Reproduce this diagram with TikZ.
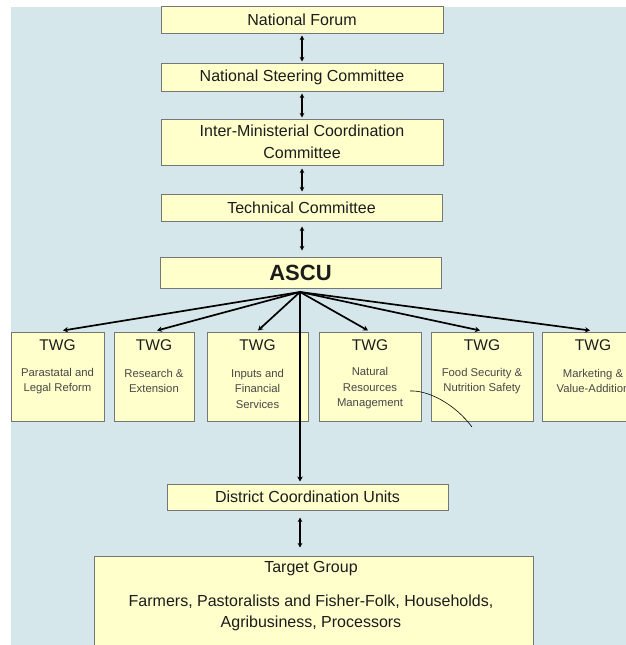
\documentclass[tikz,border=0pt]{standalone}
\usepackage{fontspec}
\setmainfont{Liberation Sans}
\usetikzlibrary{arrows.meta,calc}
\definecolor{bgblue}{RGB}{214,231,235}
\definecolor{boxfill}{RGB}{255,255,204}
\definecolor{boxline}{RGB}{118,118,118}
\definecolor{txt}{RGB}{28,28,28}
\begin{document}
\begin{tikzpicture}[x=1pt,y=-1pt,
  box/.style={draw=boxline, fill=boxfill, line width=1pt, inner sep=0pt, text=txt, font=\fontsize{16}{21.5}\selectfont, align=center},
  twgbox/.style={draw=boxline, fill=boxfill, line width=1pt, inner sep=0pt, minimum height=89pt},
  twghead/.style={text=txt, font=\fontsize{15.5}{15.5}\selectfont, inner sep=0pt},
  twgsub/.style={text=black!72, font=\fontsize{11.3}{15.5}\selectfont, align=center, inner sep=0pt},
  dbl/.style={{Stealth[length=4.5pt,width=4.5pt]}-{Stealth[length=4.5pt,width=4.5pt]}, line width=1.5pt},
  one/.style={-{Stealth[length=5pt,width=5.5pt]}, line width=1.7pt},
]
\useasboundingbox (0,0) rectangle (626,645);
\fill[white] (0,0) rectangle (626,645);
\fill[bgblue] (11,7) rectangle (626,645);

% top chain
\node[box, minimum width=282pt, minimum height=27pt] (nf) at (302,20) {National Forum};
\node[box, minimum width=282pt, minimum height=28pt] (nsc) at (302,77) {National Steering Committee};
\node[box, minimum width=282pt, minimum height=46pt] (imcc) at (302,142) {Inter-Ministerial Coordination\\Committee};
\node[box, minimum width=281pt, minimum height=27pt] (tc) at (301.5,207.5) {Technical Committee};
\node[box, minimum width=281pt, minimum height=31pt, font=\fontsize{22}{22}\selectfont\bfseries] (ascu) at (300.5,272.5) {ASCU};

% TWG boxes
\node[twgbox, minimum width=93pt] (t1) at (57.5,376.5) {};
\node[twgbox, minimum width=80pt] (t2) at (154,376.5) {};
\node[twgbox, minimum width=101pt] (t3) at (257.5,376.5) {};
\node[twgbox, minimum width=102pt] (t4) at (370,376.5) {};
\node[twgbox, minimum width=102pt] (t5) at (482,376.5) {};
\node[twgbox, minimum width=102pt] (t6) at (593,376.5) {};

\node[twghead] (t1h) at (57.5,345) {TWG};
\node[twghead] (t2h) at (154,345) {TWG};
\node[twghead] (t3h) at (257.5,345) {TWG};
\node[twghead] (t4h) at (370,345) {TWG};
\node[twghead] (t5h) at (482,345) {TWG};
\node[twghead] (t6h) at (593,345) {TWG};

\node[twgsub] (t1s) at (57.5,381) {Parastatal and\\Legal Reform};
\node[twgsub] (t2s) at (154,381) {Research \&\\Extension};
\node[twgsub] (t3s) at (257.5,388.5) {Inputs and\\Financial\\Services};
\node[twgsub] (t4s) at (370,388.5) {Natural\\Resources\\Management};
\node[twgsub] (t5s) at (482,381) {Food Security \&\\Nutrition Safety};
\node[twgsub] (t6s) at (593,381) {Marketing \&\\Value-Addition};

% lower boxes
\node[box, minimum width=281pt, minimum height=26pt] (dcu) at (307.5,497) {District Coordination Units};
\node[box, minimum width=439pt, minimum height=96pt] (tg) at (313.5,604) {};
\node[text=txt, font=\fontsize{16}{21.5}\selectfont, inner sep=0pt] (tgh) at (311,569) {Target Group};
\node[text=txt, font=\fontsize{16}{21}\selectfont, align=center, inner sep=0pt] (tgt) at (311,612.5) {Farmers, Pastoralists and Fisher-Folk, Households,\\Agribusiness, Processors};

% vertical double arrows
\draw[dbl, shorten <=1.5pt, shorten >=1pt] (nf.south) -- (nsc.north);
\draw[dbl, shorten <=2pt, shorten >=1pt] (nsc.south) -- (imcc.north);
\draw[dbl, shorten <=3pt, shorten >=2pt] (imcc.south) -- (imcc.south |- tc.north);
\draw[dbl, shorten <=5pt, shorten >=6pt] (imcc.south |- tc.south) -- (imcc.south |- ascu.north);

% hub arrows
\coordinate (hub) at (300,292);
\draw[one] (hub) -- ($(t1.north)+(5.5,-1)$);
\draw[one] (hub) -- ($(t2.north)+(3,-1)$);
\draw[one] (hub) -- ($(t3.north)+(0.5,-1)$);
\draw[one] (hub) -- ($(t4.north)+(-2,-1)$);
\draw[one] (hub) -- ($(t5.north)+(-2,-1)$);
\draw[one] (hub) -- ($(t6.north)+(-3,-1)$);
\draw[one, shorten >=2pt] (hub) -- (hub |- dcu.north);

\draw[dbl, shorten <=7pt, shorten >=8pt] (hub |- dcu.south) -- (hub |- tg.north);

% stray pen stroke
\coordinate (k1) at (410,391);
\coordinate (k2) at (472,427);
\draw[line width=0.6pt] (k1) .. controls (428,390) and (455,404) .. (k2);
\end{tikzpicture}
\end{document}
